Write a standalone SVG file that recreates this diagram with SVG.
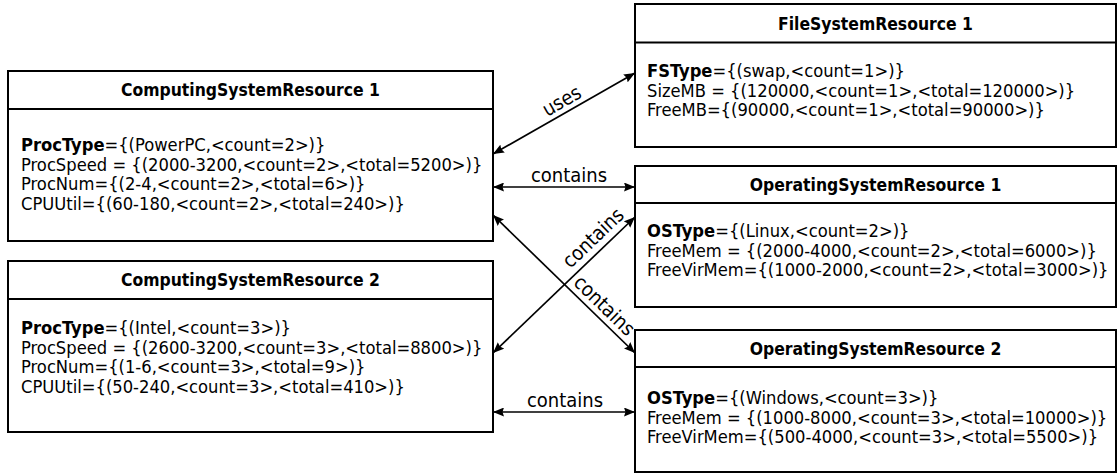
<svg xmlns="http://www.w3.org/2000/svg" width="1117" height="473" viewBox="0 0 1117 473">
<style>
.box{fill:#fff;stroke:#000;stroke-width:2}
.sep{stroke:#000;stroke-width:2}
.title{font-family:"DejaVu Sans Condensed","DejaVu Sans",sans-serif;font-stretch:condensed;font-weight:bold;font-size:17.4px;text-anchor:middle;fill:#000}
.body{font-family:"DejaVu Sans Condensed","DejaVu Sans",sans-serif;font-stretch:condensed;font-size:18.2px;fill:#000}
.b{font-weight:bold}
.conn{stroke:#000;stroke-width:1.7;fill:none;marker-start:url(#ah);marker-end:url(#ah)}
.lbl{font-family:"DejaVu Sans Condensed","DejaVu Sans",sans-serif;font-stretch:condensed;font-size:20px;text-anchor:middle;fill:#000}
</style>
<defs>
<marker id="ah" viewBox="0 0 11 9" refX="11" refY="4.5" markerWidth="11" markerHeight="9" markerUnits="userSpaceOnUse" orient="auto-start-reverse">
<path d="M0,0 L11,4.5 L0,9 L1.5,4.5 z" fill="#000"/>
</marker>
</defs>
<rect width="1117" height="473" fill="#fff"/>
<g id="connectors">
<line class="conn" x1="493" y1="154" x2="635" y2="73"/>
<line class="conn" x1="493" y1="187" x2="635" y2="187"/>
<line class="conn" x1="493" y1="215" x2="635" y2="353"/>
<line class="conn" x1="493" y1="353" x2="635" y2="217"/>
<line class="conn" x1="493" y1="412" x2="635" y2="412"/>
<text class="lbl" transform="translate(568,112) rotate(-29.7)" y="-6">uses</text>
<text class="lbl" x="569" y="182">contains</text>
<text class="lbl" transform="translate(602.7,247.8) rotate(-43.8)" y="-7">contains</text>
<text class="lbl" transform="translate(595.5,314.7) rotate(44.2)" y="-6">contains</text>
<text class="lbl" x="565" y="407">contains</text>
</g>
<g id="csr1">
<rect class="box" x="8" y="71" width="485" height="170"/>
<line class="sep" x1="8" y1="109" x2="493" y2="109"/>
<text class="title" x="250.5" y="96">ComputingSystemResource 1</text>
<text class="body" x="21" y="151"><tspan class="b">ProcType</tspan>={(PowerPC,&lt;count=2&gt;)}</text>
<text class="body" x="21" y="170.6">ProcSpeed = {(2000-3200,&lt;count=2&gt;,&lt;total=5200&gt;)}</text>
<text class="body" x="21" y="190.2">ProcNum={(2-4,&lt;count=2&gt;,&lt;total=6&gt;)}</text>
<text class="body" x="21" y="209.8">CPUUtil={(60-180,&lt;count=2&gt;,&lt;total=240&gt;)}</text>
</g>
<g id="csr2">
<rect class="box" x="8" y="261" width="485" height="171"/>
<line class="sep" x1="8" y1="299" x2="493" y2="299"/>
<text class="title" x="250.5" y="286">ComputingSystemResource 2</text>
<text class="body" x="21" y="334"><tspan class="b">ProcType</tspan>={(Intel,&lt;count=3&gt;)}</text>
<text class="body" x="21" y="353.6">ProcSpeed = {(2600-3200,&lt;count=3&gt;,&lt;total=8800&gt;)}</text>
<text class="body" x="21" y="373.2">ProcNum={(1-6,&lt;count=3&gt;,&lt;total=9&gt;)}</text>
<text class="body" x="21" y="392.8">CPUUtil={(50-240,&lt;count=3&gt;,&lt;total=410&gt;)}</text>
</g>
<g id="fsr1">
<rect class="box" x="635" y="4" width="481" height="143"/>
<line class="sep" x1="635" y1="42.5" x2="1116" y2="42.5"/>
<text class="title" x="875.5" y="29.5">FileSystemResource 1</text>
<text class="body" x="647" y="77"><tspan class="b">FSType</tspan>={(swap,&lt;count=1&gt;)}</text>
<text class="body" x="647" y="96.6">SizeMB = {(120000,&lt;count=1&gt;,&lt;total=120000&gt;)}</text>
<text class="body" x="647" y="116.2">FreeMB={(90000,&lt;count=1&gt;,&lt;total=90000&gt;)}</text>
</g>
<g id="osr1">
<rect class="box" x="635" y="166" width="481" height="141"/>
<line class="sep" x1="635" y1="203" x2="1116" y2="203"/>
<text class="title" x="875.5" y="190.5">OperatingSystemResource 1</text>
<text class="body" x="647" y="237"><tspan class="b">OSType</tspan>={(Linux,&lt;count=2&gt;)}</text>
<text class="body" x="647" y="256.6">FreeMem = {(2000-4000,&lt;count=2&gt;,&lt;total=6000&gt;)}</text>
<text class="body" x="647" y="276.2">FreeVirMem={(1000-2000,&lt;count=2&gt;,&lt;total=3000&gt;)}</text>
</g>
<g id="osr2">
<rect class="box" x="635" y="330" width="481" height="142"/>
<line class="sep" x1="635" y1="367" x2="1116" y2="367"/>
<text class="title" x="875.5" y="355">OperatingSystemResource 2</text>
<text class="body" x="647" y="404"><tspan class="b">OSType</tspan>={(Windows,&lt;count=3&gt;)}</text>
<text class="body" x="647" y="423.6">FreeMem = {(1000-8000,&lt;count=3&gt;,&lt;total=10000&gt;)}</text>
<text class="body" x="647" y="443.2">FreeVirMem={(500-4000,&lt;count=3&gt;,&lt;total=5500&gt;)}</text>
</g>
</svg>
